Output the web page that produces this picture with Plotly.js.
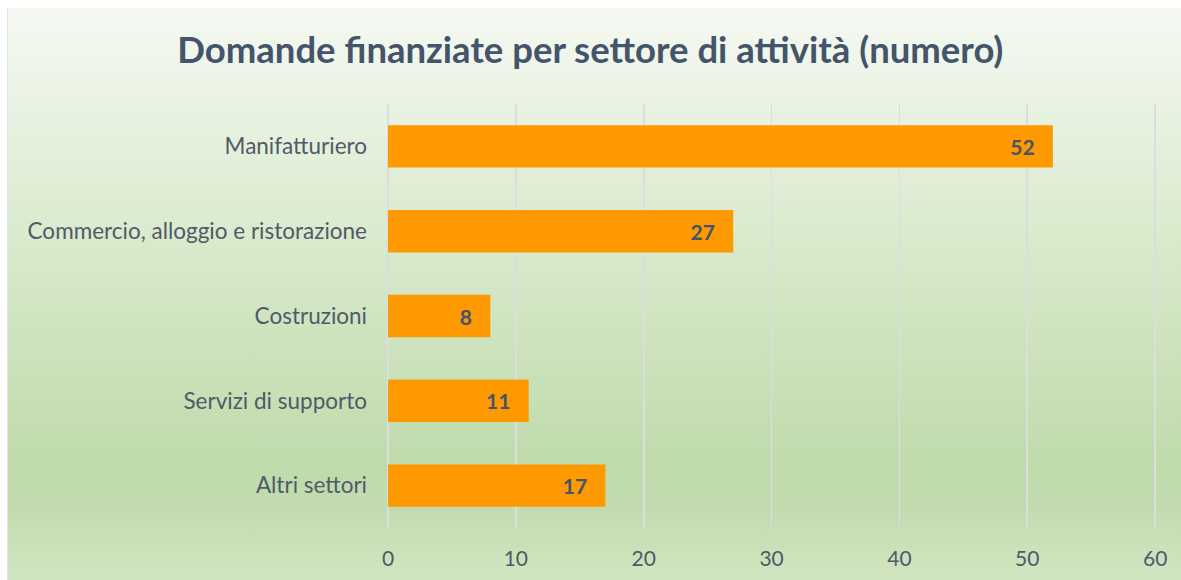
<!DOCTYPE html>
<html>
<head>
<meta charset="utf-8">
<script src="https://cdn.plot.ly/plotly-3.0.1.min.js"></script>
<style>
html,body{margin:0;padding:0;background:#ffffff;width:1181px;height:580px;overflow:hidden;}
#frame{position:absolute;left:7px;top:8px;width:1174px;height:572px;
background:linear-gradient(to bottom,#f6f9f3 0%,#eaf3e4 16%,#deedd3 33%,#d0e5c2 53%,#bfdbab 80%,#c2dcb0 88%,#d0e6c1 100%);
border-left:1px solid #dfe5ec;box-sizing:border-box;}
#chart{position:absolute;left:0;top:0;width:1174px;height:572px;}
</style>
</head>
<body>
<div id="frame"><div id="chart"></div></div>
<script>
const categories = ["Manifatturiero", "Commercio, alloggio e ristorazione", "Costruzioni", "Servizi di supporto", "Altri settori"];
const values = [52, 27, 8, 11, 17];
const xTicks = [0, 10, 20, 30, 40, 50, 60];

const pad = "\u00a0\u00a0\u00a0";
const trace = {
  type: "bar",
  orientation: "h",
  y: categories,
  x: values,
  marker: {color: "#FF9900"},
  text: values.map(v => String(v) + pad),
  textposition: "inside",
  insidetextanchor: "end",
  textangle: 0,
  textfont: {family: "Lato, sans-serif", size: 21, color: "#44546A", weight: "bold"},
  hoverinfo: "none"
};

const layout = {
  width: 1174,
  height: 572,
  paper_bgcolor: "rgba(0,0,0,0)",
  plot_bgcolor: "rgba(0,0,0,0)",
  margin: {l: 380, r: 23, t: 96, b: 52},
  bargap: 0.5,
  showlegend: false,
  title: {
    text: "Domande finanziate per settore di attività (numero)",
    font: {family: "Lato, sans-serif", size: 36.5, color: "#44546A", weight: "bold"},
    xref: "container", yref: "container",
    x: 0.496, xanchor: "center",
    y: 0.927, yanchor: "middle"
  },
  xaxis: {
    range: [0, 60.3],
    tickvals: xTicks,
    ticktext: xTicks.map(String),
    showgrid: true,
    gridcolor: "#dadee4",
    gridwidth: 1.6,
    zeroline: true,
    zerolinecolor: "#dadee4",
    zerolinewidth: 1.6,
    showline: false,
    ticks: "",
    ticklabelstandoff: 16,
    tickfont: {family: "Lato, sans-serif", size: 21, color: "#505A68"},
    fixedrange: true
  },
  yaxis: {
    categoryorder: "array",
    categoryarray: categories.slice().reverse(),
    showgrid: false,
    zeroline: false,
    showline: false,
    ticks: "",
    ticklabelstandoff: 20,
    tickfont: {family: "Lato, sans-serif", size: 22.5, color: "#505A68"},
    fixedrange: true
  }
};

Plotly.newPlot("chart", [trace], layout, {displayModeBar: false, staticPlot: true});
</script>
</body>
</html>
